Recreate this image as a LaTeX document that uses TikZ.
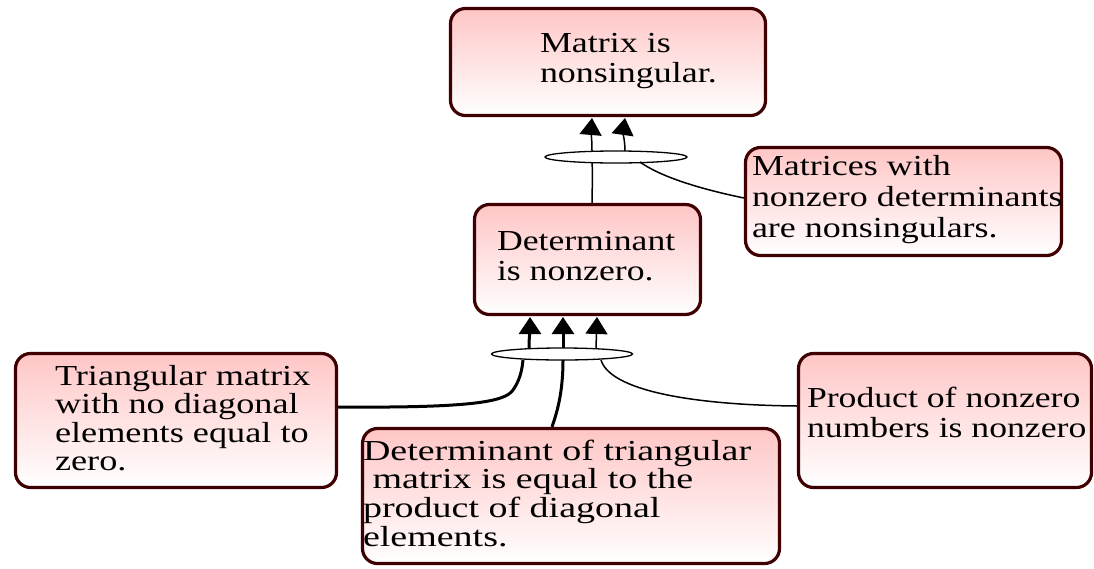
\documentclass[tikz,border=0pt]{standalone}
\usepackage{fontspec}
\setmainfont{Liberation Serif}
\usepackage{graphicx}
\usetikzlibrary{arrows.meta,shapes.geometric,calc}
\definecolor{boxline}{RGB}{62,0,0}
\definecolor{boxtop}{RGB}{255,198,198}
\newcommand{\boxtxt}[3]{\scalebox{#1}[1]{\fontsize{29}{#2}\selectfont\begin{tabular}[t]{@{}l@{}}#3\end{tabular}}}
\tikzset{
  card/.style={rectangle, rounded corners=15pt, draw=boxline, line width=3.2pt,
    top color=boxtop, bottom color=white, inner sep=0pt},
  txt/.style={anchor=base west, inner sep=0pt, outer sep=0pt},
  junction/.style={ellipse, draw=black, line width=1.3pt, fill=white, inner sep=0pt,
    minimum height=12pt},
  thinlink/.style={draw=black, line width=1.5pt},
  thicklink/.style={draw=black, line width=3pt},
  uparrow/.style={-{Triangle[width=22pt,length=17pt]}},
}
\begin{document}
\begin{tikzpicture}[x=1pt,y=-1pt]
\useasboundingbox (0,0) rectangle (1094,568);

% boxes
\node[card, minimum width=315pt, minimum height=107pt] (m) at (608,62) {};
\node[card, minimum width=316pt, minimum height=108pt] (mat) at (903.5,201.5) {};
\node[card, minimum width=226pt, minimum height=110pt] (det) at (587.5,259.5) {};
\node[card, minimum width=321pt, minimum height=134pt] (tri) at (176,420.5) {};
\node[card, minimum width=417pt, minimum height=135pt] (dt) at (571,496) {};
\node[card, minimum width=293pt, minimum height=134pt] (prod) at (945,420.5) {};

% texts
\node[txt] (mt) at (540,52) {\boxtxt{1.24}{30}{Matrix is\\nonsingular.}};
\node[txt] (matt) at (752,175) {\boxtxt{1.24}{31}{Matrices with\\nonzero determinants\\are nonsingulars.}};
\node[txt] (dett) at (497,250) {\boxtxt{1.23}{30}{Determinant\\is nonzero.}};
\node[txt] (trit) at (55,385) {\boxtxt{1.25}{28}{Triangular matrix\\with no diagonal\\elements equal to\\zero.}};
\node[txt] (dtt) at (363,460) {\boxtxt{1.31}{28.5}{Determinant of triangular\\\ matrix is equal to the\\product of diagonal\\elements.}};
\node[txt] (prodt) at (807,407) {\boxtxt{1.23}{30}{Product of nonzero\\numbers is nonzero}};

% junctions
\node[junction, minimum width=142pt] (j1) at (616,157) {};
\node[junction, minimum width=141pt] (j2) at (562,354) {};

% top junction connectors
\coordinate (a1s) at (592,151);
\coordinate (a1e) at (592,118);
\coordinate (a2s) at (625,151);
\coordinate (a2e) at (625,118);
\draw[thinlink, uparrow] (a1s) .. controls (592,140) and (591,130) .. (a1e);
\draw[thinlink, uparrow] (a2s) .. controls (625,142) and (623,132) .. (a2e);
\coordinate (j1b) at (592,163);
\coordinate (j1r) at (640,162);
\draw[thinlink] (det.north -| j1b) .. controls (592,190) and (593,175) .. (j1b);
\draw[thinlink] (j1r) .. controls (665,180) and (715,192) .. (mat.west |- 0,198);

% bottom junction connectors
\coordinate (b1s) at (529,348);
\coordinate (b1e) at (530,317);
\coordinate (b2s) at (563,348);
\coordinate (b2e) at (563,317);
\coordinate (b3s) at (596,348);
\coordinate (b3e) at (597,317);
\draw[thicklink, uparrow] (b1s) .. controls (529,338) and (530,330) .. (b1e);
\draw[thicklink, uparrow] (b2s) -- (b2e);
\draw[line width=1.5pt, uparrow] (b3s) -- (b3e);
\coordinate (j2l) at (523,360);
\coordinate (j2m) at (563,360);
\coordinate (j2r) at (601,360);
\draw[thicklink] (tri.east |- 0,407) .. controls (470,408) and (505,402) .. (513,390) .. controls (520,380) and (522,370) .. (j2l);
\draw[thicklink] (j2m) .. controls (563,395) and (556,415) .. (dt.north -| 552,0);
\draw[thinlink] (j2r) .. controls (610,390) and (690,405) .. (prod.west |- 0,406);
\end{tikzpicture}
\end{document}
